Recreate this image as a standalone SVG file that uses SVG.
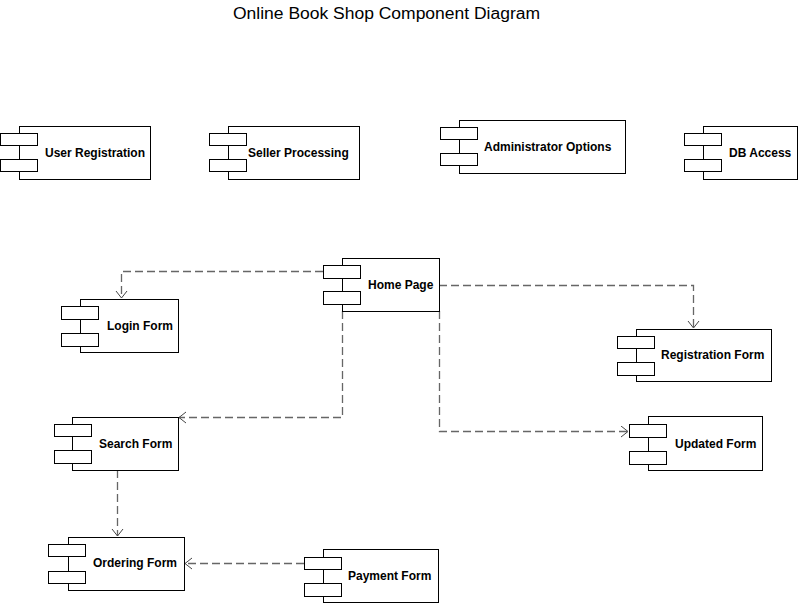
<svg xmlns="http://www.w3.org/2000/svg" width="799" height="603" viewBox="0 0 799 603">
<style>
.box{fill:#fff;stroke:#000;stroke-width:1}
.port{fill:#fff;stroke:#000;stroke-width:1}
.lbl{font-family:"Liberation Sans",Arial,sans-serif;font-size:12px;font-weight:bold;fill:#000}
.title{font-family:"Liberation Sans",Arial,sans-serif;font-size:16px;fill:#000}
.dep{fill:none;stroke:#666;stroke-width:1.3;stroke-dasharray:8,4}
</style>
<defs>
<marker id="open" markerUnits="userSpaceOnUse" markerWidth="12" markerHeight="14" refX="8" refY="6" orient="auto">
<path d="M1,0.5 L8,6 L1,11.5" fill="none" stroke="#444" stroke-width="1"/>
</marker>
</defs>
<rect width="799" height="603" fill="#fff"/>
<text class="title" x="233" y="19" textLength="307" lengthAdjust="spacingAndGlyphs">Online Book Shop Component Diagram</text>

<g id="connectors">
<path class="dep" d="M323,271.5 H121.5 V298" marker-end="url(#open)"/>
<path class="dep" d="M439,285.5 H693.5 V328" marker-end="url(#open)"/>
<path class="dep" d="M342.5,311 V417.5 H179" marker-end="url(#open)"/>
<path class="dep" d="M439.5,311 V431.5 H628" marker-end="url(#open)"/>
<path class="dep" d="M117.5,470 V536" marker-end="url(#open)"/>
<path class="dep" d="M304,563.5 H185" marker-end="url(#open)"/>
</g>

<g id="user-registration">
<rect class="box" x="19.5" y="126.5" width="131" height="53"/>
<rect class="port" x="0.5" y="133.5" width="37" height="12"/>
<rect class="port" x="0.5" y="159.5" width="37" height="12"/>
<text class="lbl" x="45" y="157">User Registration</text>
</g>

<g id="seller-processing">
<rect class="box" x="228.5" y="126.5" width="131" height="53"/>
<rect class="port" x="209.5" y="133.5" width="37" height="12"/>
<rect class="port" x="209.5" y="159.5" width="37" height="12"/>
<text class="lbl" x="248" y="157">Seller Processing</text>
</g>

<g id="administrator-options">
<rect class="box" x="459.5" y="120.5" width="166" height="53"/>
<rect class="port" x="440.5" y="127.5" width="37" height="12"/>
<rect class="port" x="440.5" y="153.5" width="37" height="12"/>
<text class="lbl" x="484" y="151">Administrator Options</text>
</g>

<g id="db-access">
<rect class="box" x="703.5" y="126.5" width="94" height="53"/>
<rect class="port" x="684.5" y="133.5" width="37" height="12"/>
<rect class="port" x="684.5" y="159.5" width="37" height="12"/>
<text class="lbl" x="729" y="157">DB Access</text>
</g>

<g id="home-page">
<rect class="box" x="342.5" y="258.5" width="97" height="53"/>
<rect class="port" x="323.5" y="265.5" width="37" height="13"/>
<rect class="port" x="323.5" y="291.5" width="37" height="13"/>
<text class="lbl" x="368" y="289">Home Page</text>
</g>

<g id="login-form">
<rect class="box" x="80.5" y="299.5" width="98" height="53"/>
<rect class="port" x="61.5" y="306.5" width="37" height="13"/>
<rect class="port" x="61.5" y="333.5" width="37" height="13"/>
<text class="lbl" x="107" y="330">Login Form</text>
</g>

<g id="registration-form">
<rect class="box" x="636.5" y="329.5" width="135" height="52"/>
<rect class="port" x="617.5" y="336.5" width="37" height="12"/>
<rect class="port" x="617.5" y="362.5" width="37" height="13"/>
<text class="lbl" x="661" y="359">Registration Form</text>
</g>

<g id="search-form">
<rect class="box" x="72.5" y="417.5" width="106" height="53"/>
<rect class="port" x="54.5" y="424.5" width="37" height="12"/>
<rect class="port" x="54.5" y="450.5" width="37" height="13"/>
<text class="lbl" x="99" y="448">Search Form</text>
</g>

<g id="updated-form">
<rect class="box" x="648.5" y="416.5" width="114" height="54"/>
<rect class="port" x="629.5" y="424.5" width="37" height="13"/>
<rect class="port" x="629.5" y="451.5" width="37" height="13"/>
<text class="lbl" x="675" y="448">Updated Form</text>
</g>

<g id="ordering-form">
<rect class="box" x="68.5" y="537.5" width="116" height="53"/>
<rect class="port" x="48.5" y="544.5" width="37" height="12"/>
<rect class="port" x="48.5" y="571.5" width="37" height="12"/>
<text class="lbl" x="93" y="567">Ordering Form</text>
</g>

<g id="payment-form">
<rect class="box" x="323.5" y="549.5" width="115" height="53"/>
<rect class="port" x="304.5" y="557.5" width="37" height="12"/>
<rect class="port" x="304.5" y="583.5" width="37" height="13"/>
<text class="lbl" x="348" y="580">Payment Form</text>
</g>
</svg>
